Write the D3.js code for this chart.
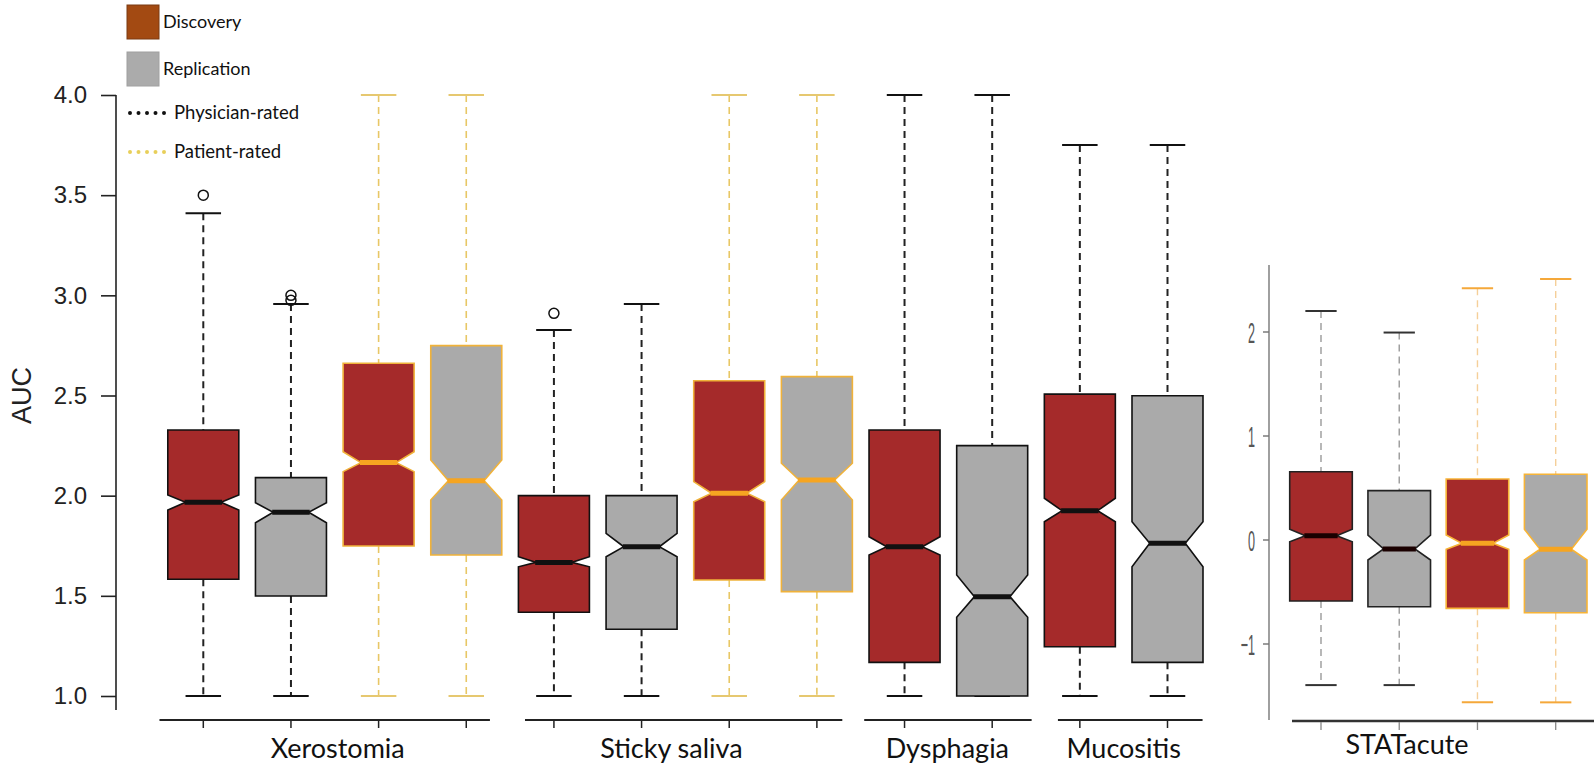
<!DOCTYPE html>
<html>
<head>
<meta charset="utf-8">
<script src="https://cdn.jsdelivr.net/npm/d3@7"></script>
<style>
  html, body { margin: 0; padding: 0; background: #ffffff; }
  svg { display: block; }
</style>
</head>
<body>
<svg id="chart" width="1594" height="768"></svg>
<script>
// ---------------- DATA ----------------
// Main panel: 12 notched boxes (AUC scale)
const groups = ["Xerostomia", "Sticky saliva", "Dysphagia", "Mucositis"];
const boxGroup = ["Xerostomia","Xerostomia","Xerostomia","Xerostomia",
                  "Sticky saliva","Sticky saliva","Sticky saliva","Sticky saliva",
                  "Dysphagia","Dysphagia","Mucositis","Mucositis"];
const boxCohort = ["Discovery","Replication","Discovery","Replication",
                   "Discovery","Replication","Discovery","Replication",
                   "Discovery","Replication","Discovery","Replication"];
const boxRater = ["Physician","Physician","Patient","Patient",
                  "Physician","Physician","Patient","Patient",
                  "Physician","Physician","Physician","Physician"];
const whiskerLow  = [1, 1, 1, 1, 1, 1, 1, 1, 1, 1, 1, 1];
const q1          = [1.583, 1.499, 1.749, 1.704, 1.418, 1.333, 1.579, 1.521, 1.168, 1.0, 1.246, 1.168];
const notchLow    = [1.928, 1.865, 2.120, 1.978, 1.645, 1.695, 1.970, 1.978, 1.704, 1.393, 1.870, 1.645];
const median      = [1.967, 1.917, 2.165, 2.075, 1.667, 1.745, 2.012, 2.078, 1.745, 1.496, 1.925, 1.762];
const notchHigh   = [2.003, 1.965, 2.219, 2.178, 1.695, 1.812, 2.070, 2.162, 1.795, 1.604, 1.987, 1.870];
const q3          = [2.328, 2.090, 2.661, 2.749, 2.000, 2.000, 2.574, 2.594, 2.328, 2.250, 2.507, 2.499];
const whiskerHigh = [3.41, 2.957, 4, 4, 2.827, 2.957, 4, 4, 4, 4, 3.75, 3.75];
const outliers    = [[3.5], [3.0, 2.975], [], [], [2.91], [], [], [], [], [], [], []];
const yTicks = [1.0, 1.5, 2.0, 2.5, 3.0, 3.5, 4.0];

// Right panel: STATacute
const statCohort = ["Discovery", "Replication", "Discovery", "Replication"];
const statRater  = ["Physician", "Physician", "Patient", "Patient"];
const statWhiskerLow  = [-1.40, -1.40, -1.566, -1.566];
const statQ1          = [-0.591, -0.646, -0.662, -0.704];
const statNotchLow    = [-0.021, -0.197, -0.094, -0.197];
const statMedian      = [0.037, -0.091, -0.037, -0.094];
const statNotchHigh   = [0.098, 0.043, 0.043, 0.098];
const statQ3          = [0.652, 0.470, 0.582, 0.627];
const statWhiskerHigh = [2.197, 1.990, 2.415, 2.505];
const statTicks = [-1, 0, 1, 2];

// Legend
const legendCohorts = ["Discovery", "Replication"];
const legendRaters = ["Physician-rated", "Patient-rated"];

// ---------------- STYLE ----------------
const fillColor = { Discovery: "#a52a2a", Replication: "#aaaaaa" };
const legendFill = { Discovery: "#a34a12", Replication: "#ababab" };
const mainStyle = {
  Physician: { border: "#111111", median: "#111111", whisker: "#222222", cap: "#111111", wWidth: 2 },
  Patient:   { border: "#f0b23a", median: "#f6a521", whisker: "#e8c766", cap: "#e6c870", wWidth: 1.6 }
};
const statStyle = {
  Physician: { border: "#222222", median: "#1a0000", whisker: "#9a9a9a", cap: "#333333", wWidth: 1.4 },
  Patient:   { border: "#f7b437", median: "#f6a521", whisker: "#f5cf99", cap: "#f5a83a", wWidth: 1.4 }
};

const svg = d3.select("#chart");

// ---------------- MAIN PANEL ----------------
const x = d3.scaleLinear().domain([1, 12]).range([203.3, 1167.5]);
const y = d3.scaleLinear().domain([1, 4]).range([696, 95]);
const step = x(2) - x(1);
const hw = step * 0.405;

// y axis
const yAxis = d3.axisLeft(y).tickValues(yTicks).tickFormat(d3.format(".1f"))
  .tickSize(15).tickPadding(14);
const gy = svg.append("g").attr("transform", "translate(116,0)").call(yAxis);
gy.select(".domain").remove();
gy.selectAll(".tick line").attr("stroke", "#222").attr("stroke-width", 1.6);
gy.selectAll(".tick text").attr("font-family", "'Liberation Sans', Arial, sans-serif")
  .attr("font-size", 24).attr("fill", "#222");
svg.append("line").attr("x1", 116).attr("x2", 116).attr("y1", y(4)).attr("y2", 710)
  .attr("stroke", "#222").attr("stroke-width", 1.6);

svg.append("text").attr("transform", `translate(31,${y(2.5)}) rotate(-90)`)
  .attr("text-anchor", "middle")
  .attr("font-family", "'Liberation Sans', Arial, sans-serif")
  .attr("font-size", 27).attr("fill", "#222").text("AUC");

// x axis segments (category positions)
const groupExtent = {
  "Xerostomia": [0.5, 4.27],
  "Sticky saliva": [4.67, 8.29],
  "Dysphagia": [8.54, 10.45],
  "Mucositis": [10.75, 12.4]
};
const groupLabelOffset = { "Xerostomia": 3, "Sticky saliva": -14, "Dysphagia": -1, "Mucositis": 0 };
const axisY = 720;
groups.forEach(g => {
  const idx = boxGroup.map((d, i) => d === g ? i + 1 : null).filter(d => d !== null);
  const ext = groupExtent[g];
  svg.append("line").attr("x1", x(ext[0])).attr("x2", x(ext[1]))
    .attr("y1", axisY).attr("y2", axisY).attr("stroke", "#222").attr("stroke-width", 2);
  idx.forEach(p => {
    svg.append("line").attr("x1", x(p)).attr("x2", x(p)).attr("y1", axisY).attr("y2", axisY + 8)
      .attr("stroke", "#222").attr("stroke-width", 1.5);
  });
  const cx = (x(idx[0]) + x(idx[idx.length - 1])) / 2 + groupLabelOffset[g];
  svg.append("text").attr("x", cx).attr("y", 758).attr("text-anchor", "middle")
    .attr("font-family", "Lato, 'Open Sans', sans-serif").attr("font-size", 27)
    .attr("fill", "#111").text(g);
});

function notchPath(cx, w, yq1, ynl, ymed, ynh, yq3) {
  return `M${cx - w},${yq3} L${cx + w},${yq3} L${cx + w},${ynh} L${cx + w / 2},${ymed} ` +
    `L${cx + w},${ynl} L${cx + w},${yq1} L${cx - w},${yq1} L${cx - w},${ynl} ` +
    `L${cx - w / 2},${ymed} L${cx - w},${ynh} Z`;
}

function drawBox(g, cx, w, yS, v, st, fill) {
  // whiskers
  g.append("line").attr("x1", cx).attr("x2", cx).attr("y1", yS(v.wh)).attr("y2", yS(v.q3))
    .attr("stroke", st.whisker).attr("stroke-width", st.wWidth).attr("stroke-dasharray", "7,5");
  g.append("line").attr("x1", cx).attr("x2", cx).attr("y1", yS(v.q1)).attr("y2", yS(v.wl))
    .attr("stroke", st.whisker).attr("stroke-width", st.wWidth).attr("stroke-dasharray", "7,5");
  // caps
  [v.wh, v.wl].forEach(c => {
    g.append("line").attr("x1", cx - w / 2).attr("x2", cx + w / 2).attr("y1", yS(c)).attr("y2", yS(c))
      .attr("stroke", st.cap).attr("stroke-width", 2);
  });
  // box
  g.append("path").attr("d", notchPath(cx, w, yS(v.q1), yS(v.nl), yS(v.med), yS(v.nh), yS(v.q3)))
    .attr("fill", fill).attr("stroke", st.border).attr("stroke-width", 1.6)
    .attr("stroke-linejoin", "miter");
  // median
  g.append("line").attr("x1", cx - w / 2 - 1).attr("x2", cx + w / 2 + 1)
    .attr("y1", yS(v.med)).attr("y2", yS(v.med))
    .attr("stroke", st.median).attr("stroke-width", 5);
}

const gMain = svg.append("g");
for (let i = 0; i < 12; i++) {
  const v = { wl: whiskerLow[i], q1: q1[i], nl: notchLow[i], med: median[i],
              nh: notchHigh[i], q3: q3[i], wh: whiskerHigh[i] };
  drawBox(gMain, x(i + 1), hw, y, v, mainStyle[boxRater[i]], fillColor[boxCohort[i]]);
  outliers[i].forEach(o => {
    gMain.append("circle").attr("cx", x(i + 1)).attr("cy", y(o)).attr("r", 5)
      .attr("fill", "none").attr("stroke", "#111").attr("stroke-width", 1.5);
  });
}

// ---------------- RIGHT PANEL ----------------
const xs = d3.scaleLinear().domain([1, 4]).range([1321, 1555.7]);
const ys = d3.scaleLinear().domain([-1, 2]).range([643.5, 331.5]);
const hws = (xs(2) - xs(1)) * 0.4;

const gAxisR = svg.append("g").attr("transform", "translate(1269,0)")
  .call(d3.axisLeft(ys).tickValues(statTicks).tickFormat(d3.format("d")).tickSize(6).tickPadding(6));
gAxisR.select(".domain").remove();
gAxisR.selectAll(".tick line").attr("stroke", "#666").attr("stroke-width", 1.3);
gAxisR.selectAll(".tick text").attr("font-family", "'Liberation Sans', Arial, sans-serif")
  .attr("font-size", 30).attr("fill", "#555")
  .attr("transform", "scale(0.42,1)")
  .attr("x", function () { return -14 / 0.42; })
  .attr("dy", "0.36em");
svg.append("line").attr("x1", 1269).attr("x2", 1269).attr("y1", 265).attr("y2", 720)
  .attr("stroke", "#777").attr("stroke-width", 1.4);
svg.append("line").attr("x1", 1292).attr("x2", 1594).attr("y1", 721).attr("y2", 721)
  .attr("stroke", "#333").attr("stroke-width", 2.4);
statCohort.forEach((c, i) => {
  svg.append("line").attr("x1", xs(i + 1)).attr("x2", xs(i + 1)).attr("y1", 722).attr("y2", 730)
    .attr("stroke", "#888").attr("stroke-width", 1.3);
});
svg.append("text").attr("x", 1407).attr("y", 754).attr("text-anchor", "middle")
  .attr("font-family", "Lato, 'Open Sans', sans-serif").attr("font-size", 27)
  .attr("fill", "#111").text("STATacute");

const gStat = svg.append("g");
for (let i = 0; i < 4; i++) {
  const v = { wl: statWhiskerLow[i], q1: statQ1[i], nl: statNotchLow[i], med: statMedian[i],
              nh: statNotchHigh[i], q3: statQ3[i], wh: statWhiskerHigh[i] };
  drawBox(gStat, xs(i + 1), hws, ys, v, statStyle[statRater[i]], fillColor[statCohort[i]]);
}

// ---------------- LEGEND ----------------
const gLeg = svg.append("g");
const swatchY = [5, 52];
legendCohorts.forEach((c, i) => {
  gLeg.append("rect").attr("x", 127).attr("y", swatchY[i]).attr("width", 32).attr("height", 34)
    .attr("fill", legendFill[c])
    .attr("stroke", c === "Discovery" ? "#7a3a12" : "#a0a0a0").attr("stroke-width", 1);
  gLeg.append("text").attr("x", 163).attr("y", swatchY[i] + 17).attr("dy", "0.35em")
    .attr("font-family", "Lato, 'Open Sans', sans-serif").attr("font-size", 18)
    .attr("fill", "#111").text(c);
});
const raterY = [113, 152];
const raterColor = ["#111111", "#e8cf5a"];
legendRaters.forEach((r, i) => {
  gLeg.append("line").attr("x1", 130).attr("x2", 172).attr("y1", raterY[i]).attr("y2", raterY[i])
    .attr("stroke", raterColor[i]).attr("stroke-width", 4)
    .attr("stroke-dasharray", "0,8.5").attr("stroke-linecap", "round");
  gLeg.append("text").attr("x", 174).attr("y", raterY[i]).attr("dy", "0.35em")
    .attr("font-family", "Lato, 'Open Sans', sans-serif").attr("font-size", 18.5)
    .attr("fill", "#111").text(r);
});
</script>
</body>
</html>
